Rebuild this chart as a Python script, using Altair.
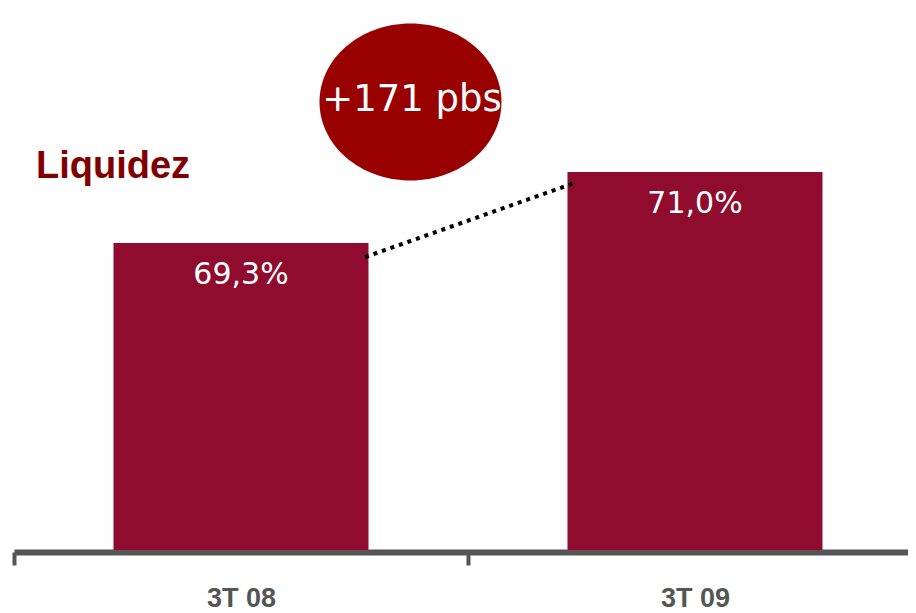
import altair as alt
import pandas as pd

# --- data ---
categories = ["3T 08", "3T 09"]
values = [69.3, 71.0]
value_labels = ["69,3%", "71,0%"]
delta_label = "+171 pbs"
title_text = "Liquidez"

bars_df = pd.DataFrame({"cat": categories, "v": values, "lbl": value_labels})
conn_df = pd.DataFrame({"c1": [categories[0]], "c2": [categories[1]],
                        "v1": [values[0]], "v2": [values[1]]})

W, H = 894, 542
xscale = alt.Scale(range=[0, 908], paddingInner=0, paddingOuter=0)
yscale = alt.Scale(domain=[61.95, 74.93], zero=False, nice=False)

x_enc = alt.X("cat:N", scale=xscale, sort=categories,
              axis=alt.Axis(title=None, domainColor="#555555", domainWidth=6,
                            tickColor="#555555", tickWidth=4, tickSize=13,
                            tickBand="extent", labelFont="Liberation Sans",
                            labelFontWeight="bold", labelFontSize=27,
                            labelColor="#555555", labelPadding=41,
                            labelBaseline="alphabetic", labelAngle=0,
                            offset=2, grid=False))
y_enc = alt.Y("v:Q", scale=yscale, axis=None)

base = alt.Chart(bars_df)

bars = base.mark_bar(color="#8F0C2E", clip=True,
                     width=alt.RelativeBandSize(band=255 / 454)).encode(x=x_enc, y=y_enc)

labels = base.mark_text(color="white", font="DejaVu Sans", fontSize=30,
                        baseline="alphabetic", align="center", dy=41).encode(
    x=alt.X("cat:N", sort=categories), y=alt.Y("v:Q"), text="lbl:N")

connector = alt.Chart(conn_df).mark_rule(
    color="black", strokeWidth=4, strokeDash=[4, 5],
    xOffset=124, x2Offset=-118, yOffset=14, y2Offset=10).encode(
    x=alt.X("c1:N", sort=categories), x2="c2:N",
    y=alt.Y("v1:Q"), y2="v2:Q")

ellipse_path = ("M-1,0C-1,-0.4767,-0.5523,-0.863,0,-0.863"
                "C0.5523,-0.863,1,-0.4767,1,0"
                "C1,0.4767,0.5523,0.863,0,0.863"
                "C-0.5523,0.863,-1,0.4767,-1,0Z")

ann_df = pd.DataFrame({"t": [delta_label]})
ellipse = alt.Chart(ann_df).mark_point(
    shape=ellipse_path, filled=True, color="#990000", opacity=1,
    size=182 * 182, strokeWidth=0).encode(x=alt.value(396.5), y=alt.value(94))

delta_text = alt.Chart(ann_df).mark_text(
    color="white", font="DejaVu Sans", fontSize=37, align="center",
    baseline="alphabetic").encode(x=alt.value(398), y=alt.value(103), text="t:N")

title_df = pd.DataFrame({"t": [title_text]})
title = alt.Chart(title_df).mark_text(
    color="#800000", font="Liberation Sans", fontWeight="bold", fontSize=38,
    align="left", baseline="alphabetic").encode(
    x=alt.value(22), y=alt.value(170), text="t:N")

chart = alt.layer(bars, labels, connector, ellipse, delta_text, title).properties(
    width=W, height=H,
    autosize=alt.AutoSizeParams(type="none"),
    padding={"left": 6, "top": 0, "right": 0, "bottom": 63},
    background="white",
).configure_view(stroke=None)

chart.save("out.html", embed_options={"renderer": "svg", "actions": False})
